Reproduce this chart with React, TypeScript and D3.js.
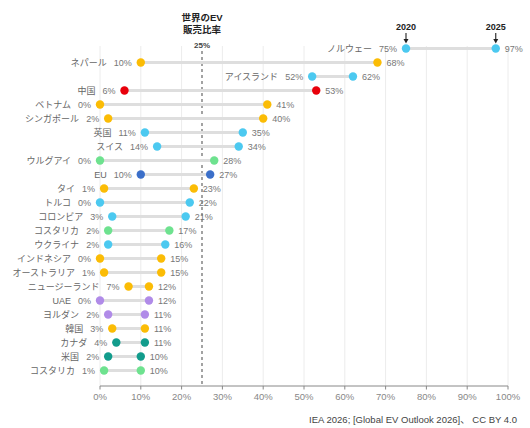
import React from "react";
import * as d3 from "d3";

const countries = ["ノルウェー","ネパール","アイスランド","中国","ベトナム","シンガポール","英国","スイス","ウルグアイ","EU","タイ","トルコ","コロンビア","コスタリカ","ウクライナ","インドネシア","オーストラリア","ニュージーランド","UAE","ヨルダン","韓国","カナダ","米国","コスタリカ"];
const share2020 = [75,10,52,6,0,2,11,14,0,10,1,0,3,2,2,0,1,7,0,2,3,4,2,1];
const share2025 = [97,68,62,53,41,40,35,34,28,27,23,22,21,17,16,15,15,12,12,11,11,11,10,10];
const groups = ["blue","yellow","blue","red","yellow","yellow","blue","blue","green","eu","yellow","blue","blue","green","blue","yellow","yellow","yellow","purple","purple","yellow","teal","teal","green"];
const groupColors: Record<string, string> = {
  blue: "#4cc9f0",
  yellow: "#fbbc05",
  red: "#e8000b",
  green: "#6ee28f",
  eu: "#3b6fc9",
  purple: "#b08be8",
  teal: "#129c8c",
};
const xTicks = [0,10,20,30,40,50,60,70,80,90,100];
const worldShare = 25;

const W = 530, H = 428;
const FONT = "'Liberation Sans', Arial, 'Noto Sans CJK JP', sans-serif";

export default function App() {
  const x = d3.scaleLinear().domain([0, 100]).range([100, 508]);
  const y = d3.scalePoint<number>().domain(countries.map((_, i) => i)).range([48.5, 370.5]);
  const axisY = 386;
  const gridTop = 46;

  return (
    <svg width={W} height={H} style={{ position: "absolute", left: 0, top: 0, background: "#fff" }} fontFamily={FONT}>
      {xTicks.map((t) => (
        <line key={"g" + t} x1={x(t)} x2={x(t)} y1={gridTop} y2={axisY} stroke="#ececec" strokeWidth={1} />
      ))}
      <line x1={x(worldShare)} x2={x(worldShare)} y1={51} y2={axisY} stroke="#666" strokeWidth={1.2} strokeDasharray="3,3" />
      <text x={x(worldShare)} y={21} textAnchor="middle" fontSize={9.5} fontWeight="bold" fill="#222">世界のEV</text>
      <text x={x(worldShare)} y={33} textAnchor="middle" fontSize={9.5} fontWeight="bold" fill="#222">販売比率</text>
      <text x={x(worldShare)} y={48} textAnchor="middle" fontSize={8} fontWeight="bold" fill="#444">{worldShare}%</text>

      {countries.map((c, i) => {
        const yy = y(i)!;
        const a = share2020[i], b = share2025[i];
        const col = groupColors[groups[i]];
        return (
          <g key={i}>
            <line x1={x(a)} x2={x(b)} y1={yy} y2={yy} stroke="#dedede" strokeWidth={3} />
            <circle cx={x(a)} cy={yy} r={4.2} fill={col} />
            <circle cx={x(b)} cy={yy} r={4.2} fill={col} />
            <text x={x(a) - 9} y={yy + 3.3} textAnchor="end" fontSize={9} fill="#666">
              <tspan>{c}</tspan>
              <tspan dx={7} fill="#777">{a}%</tspan>
            </text>
            <text x={x(b) + 9} y={yy + 3.3} fontSize={9} fill="#777">{b}%</text>
          </g>
        );
      })}

      {[{ v: share2020[0], label: "2020" }, { v: share2025[0], label: "2025" }].map((d) => (
        <g key={d.label}>
          <text x={x(d.v)} y={30} textAnchor="middle" fontSize={9} fontWeight="bold" fill="#222">{d.label}</text>
          <line x1={x(d.v)} x2={x(d.v)} y1={33} y2={41} stroke="#222" strokeWidth={1.1} />
          <path d={`M${x(d.v) - 2.5},${39} L${x(d.v) + 2.5},${39} L${x(d.v)},${43.5} Z`} fill="#222" />
        </g>
      ))}

      <line x1={x(0)} x2={x(100)} y1={axisY} y2={axisY} stroke="#888" strokeWidth={1} />
      {xTicks.map((t) => (
        <g key={"t" + t}>
          <line x1={x(t)} x2={x(t)} y1={axisY} y2={axisY + 3.5} stroke="#888" strokeWidth={1} />
          <text x={x(t)} y={400} textAnchor="middle" fontSize={9.5} fill="#888">{t}%</text>
        </g>
      ))}

      <text x={517} y={423} textAnchor="end" fontSize={9.5} fill="#444">IEA 2026; [Global EV Outlook 2026]、 CC BY 4.0</text>
    </svg>
  );
}
